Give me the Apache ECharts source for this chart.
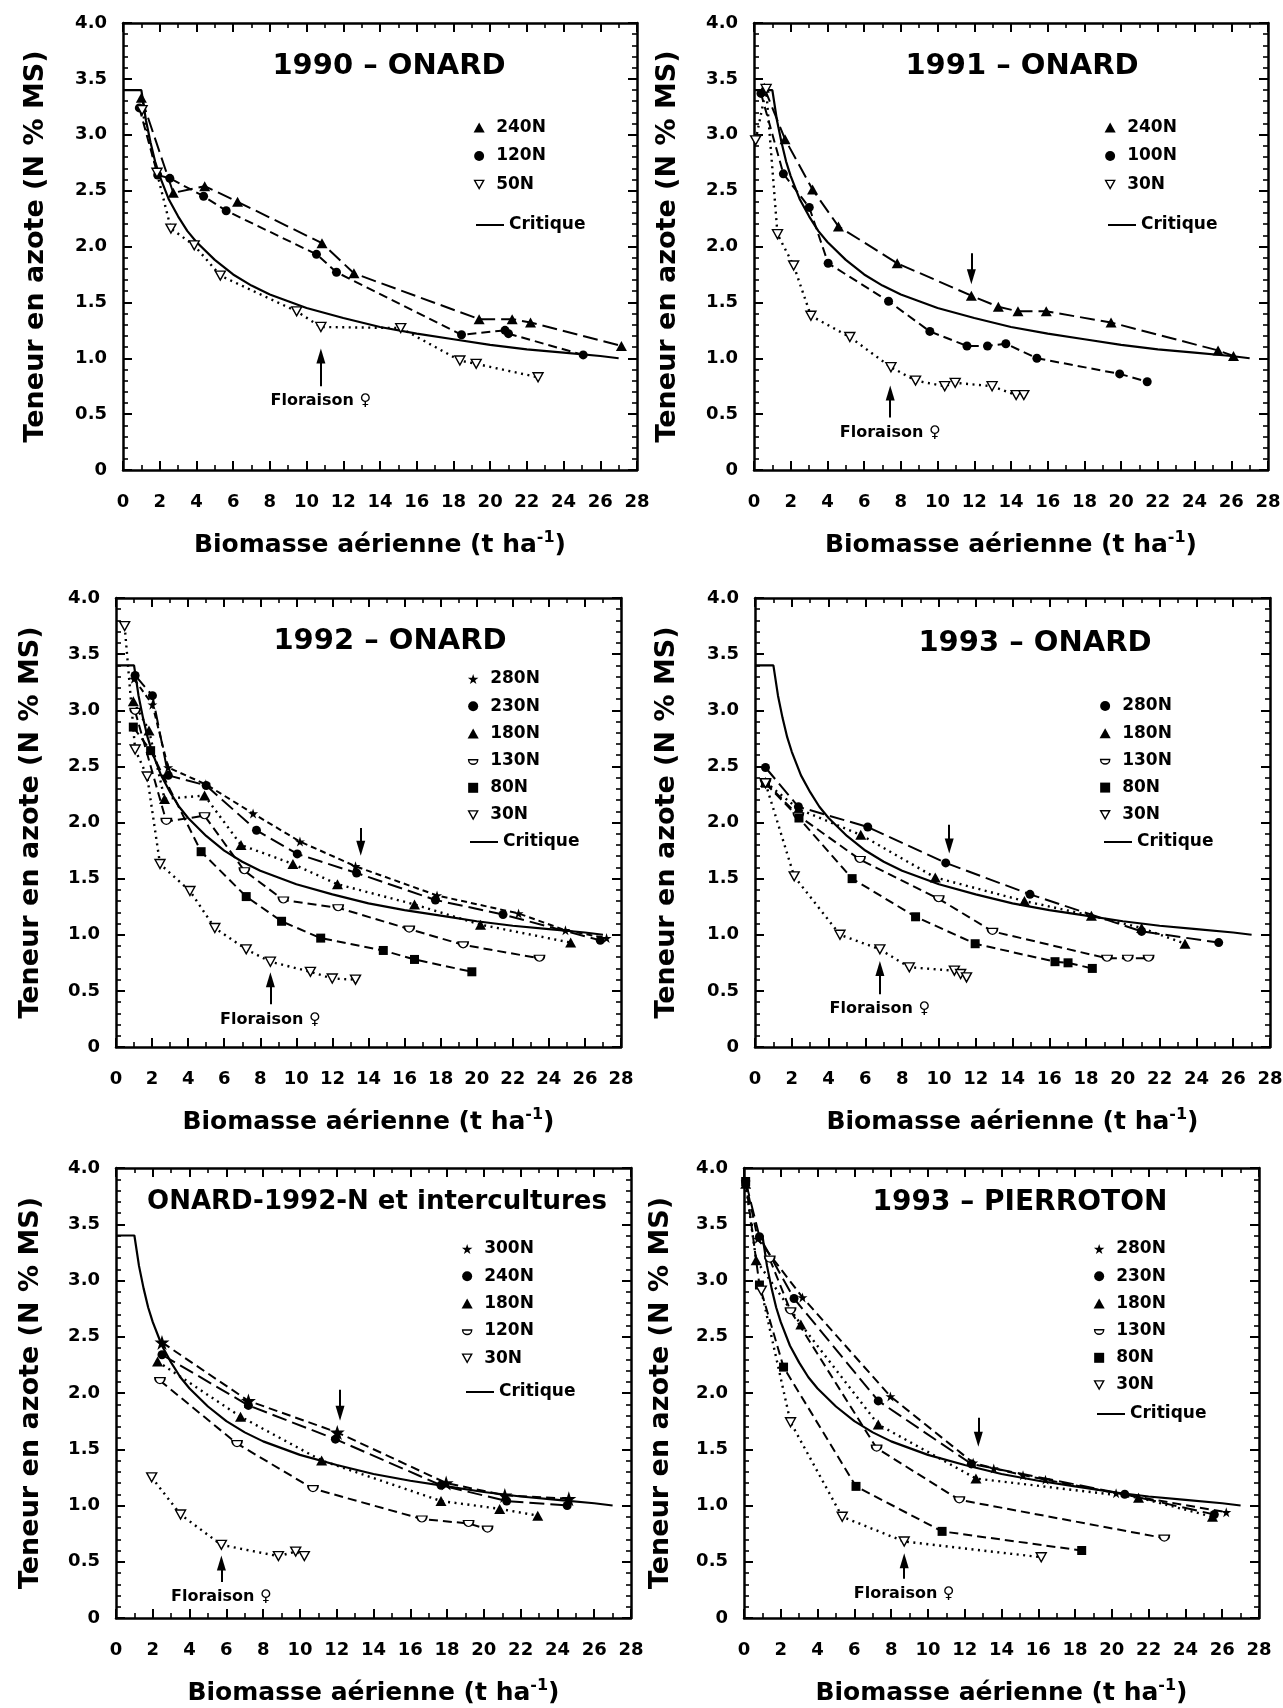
<!DOCTYPE html>
<html><head><meta charset="utf-8">
<script src="https://cdn.jsdelivr.net/npm/echarts@6/dist/echarts.min.js"></script>
<style>html,body{margin:0;padding:0;background:#fff}#c{width:1283px;height:1708px}</style>
</head><body><div id="c"></div>
<script>
// ---------- DATA ----------
const xTicks = [0, 28, 2];          // min, max, step of the x axes
const yTicks = [0, 4, 0.5];         // min, max, step of the y axes
const critique = [[0,3.4],[1,3.4],[1.25,3.13],[1.5,2.93],[1.75,2.76],[2,2.63],[2.5,2.42],[3,2.27],[3.5,2.14],[4,2.04],[5,1.88],[6,1.75],[7,1.65],[8,1.57],[9,1.51],[10,1.45],[12,1.36],[14,1.28],[16,1.22],[18,1.17],[20,1.12],[22,1.08],[24,1.05],[26,1.02],[27,1.0]];
const critiqueP6 = [[1,3.4],[1.25,3.13],[1.5,2.93],[1.75,2.76],[2,2.63],[2.5,2.42],[3,2.27],[3.5,2.14],[4,2.04],[5,1.88],[6,1.75],[7,1.65],[8,1.57],[9,1.51],[10,1.45],[12,1.36],[14,1.28],[16,1.22],[18,1.17],[20,1.12],[22,1.08],[24,1.05],[26,1.02],[27,1.0]];

// 1990 - ONARD
const p1_240N = [[1.0,3.33],[2.74,2.48],[4.45,2.54],[6.24,2.40],[10.84,2.03],[12.58,1.76],[19.4,1.35],[21.2,1.35],[22.2,1.32],[27.15,1.11]];
const p1_120N = [[0.89,3.24],[1.89,2.64],[2.55,2.61],[4.39,2.45],[5.62,2.32],[10.54,1.93],[11.63,1.77],[18.44,1.21],[20.81,1.25],[21.0,1.22],[25.07,1.03]];
const p1_50N  = [[1.04,3.22],[1.85,2.66],[2.61,2.16],[3.88,2.01],[5.30,1.74],[9.46,1.42],[10.78,1.28],[15.13,1.27],[18.35,0.98],[19.24,0.95],[22.61,0.83]];
// 1991 - ONARD
const p2_240N = [[0.56,3.42],[1.69,2.96],[3.19,2.51],[4.60,2.18],[7.80,1.85],[11.84,1.56],[13.31,1.46],[14.38,1.42],[15.92,1.42],[19.45,1.32],[25.28,1.07],[26.12,1.02]];
const p2_100N = [[0.38,3.37],[1.60,2.65],[3.01,2.35],[4.04,1.85],[7.33,1.51],[9.58,1.24],[11.60,1.11],[12.72,1.11],[13.72,1.13],[15.41,1.00],[19.92,0.86],[21.42,0.79]];
const p2_30N  = [[0.09,2.95],[0.66,3.41],[1.28,2.11],[2.16,1.83],[3.10,1.38],[5.22,1.19],[7.46,0.92],[8.80,0.80],[10.39,0.75],[10.96,0.78],[12.97,0.75],[14.28,0.67],[14.70,0.67]];
// 1992 - ONARD
const p3_280N = [[1.0,3.28],[2.02,3.05],[2.89,2.49],[4.98,2.34],[7.60,2.08],[10.20,1.83],[13.28,1.61],[17.80,1.35],[22.32,1.19],[24.92,1.04],[27.2,0.97]];
const p3_230N = [[1.06,3.31],[2.02,3.13],[2.9,2.42],[5.0,2.33],[7.79,1.93],[10.05,1.72],[13.34,1.55],[17.71,1.31],[21.46,1.18],[26.85,0.95]];
const p3_180N = [[0.96,3.08],[1.83,2.82],[2.69,2.21],[4.91,2.24],[6.93,1.80],[9.81,1.63],[12.28,1.45],[16.55,1.27],[20.21,1.09],[25.21,0.93]];
const p3_130N = [[1.06,2.99],[2.79,2.01],[4.91,2.06],[7.12,1.57],[9.28,1.31],[12.32,1.24],[16.26,1.05],[19.25,0.91],[23.48,0.79]];
const p3_80N  = [[0.96,2.85],[1.92,2.64],[4.72,1.74],[7.22,1.34],[9.18,1.12],[11.35,0.97],[14.82,0.86],[16.55,0.78],[19.73,0.67]];
const p3_30N  = [[0.48,3.75],[1.06,2.65],[1.73,2.41],[2.44,1.63],[4.10,1.39],[5.48,1.06],[7.22,0.87],[8.56,0.76],[10.78,0.67],[11.99,0.61],[13.28,0.60]];
// 1993 - ONARD
const p4_280N = [[0.57,2.49],[2.36,2.14],[6.13,1.96],[10.37,1.64],[14.95,1.36],[21.02,1.03],[25.21,0.93]];
const p4_180N = [[0.57,2.36],[2.36,2.12],[5.75,1.89],[9.80,1.51],[14.65,1.30],[18.29,1.17],[21.02,1.06],[23.38,0.92]];
const p4_130N = [[0.57,2.36],[2.36,2.06],[5.71,1.67],[9.99,1.32],[12.91,1.03],[19.14,0.79],[20.27,0.79],[21.40,0.79]];
const p4_80N  = [[0.57,2.35],[2.39,2.04],[5.28,1.50],[8.73,1.16],[11.97,0.92],[16.31,0.76],[17.02,0.75],[18.34,0.70]];
const p4_30N  = [[0.57,2.35],[2.13,1.52],[4.62,1.00],[6.79,0.87],[8.39,0.71],[10.84,0.68],[11.18,0.65],[11.50,0.62]];
// ONARD-1992-N et intercultures
const p5_300N = [[2.50,2.45],[7.20,1.93],[12.03,1.65],[17.95,1.20],[21.14,1.09],[24.62,1.06]];
const p5_240N = [[2.50,2.34],[7.20,1.89],[11.93,1.59],[17.67,1.18],[21.24,1.04],[24.53,1.00]];
const p5_180N = [[2.26,2.28],[6.77,1.79],[11.18,1.40],[17.67,1.04],[20.86,0.97],[22.93,0.91]];
const p5_120N = [[2.39,2.11],[6.58,1.55],[10.71,1.15],[16.63,0.88],[19.17,0.84],[20.20,0.79]];
const p5_30N  = [[1.94,1.25],[3.51,0.92],[5.73,0.65],[8.83,0.55],[9.77,0.59],[10.24,0.55]];
// 1993 - PIERROTON
const p6_280N = [[0.09,3.88],[0.75,3.37],[3.18,2.85],[7.96,1.97],[12.46,1.38],[13.58,1.33],[15.17,1.27],[16.39,1.23],[20.23,1.11],[26.22,0.94]];
const p6_230N = [[0.09,3.88],[0.84,3.39],[2.72,2.84],[7.30,1.93],[12.36,1.37],[20.70,1.10],[25.57,0.92]];
const p6_180N = [[0.09,3.86],[0.66,3.18],[3.09,2.61],[7.30,1.72],[12.61,1.24],[21.45,1.07],[25.47,0.90]];
const p6_130N = [[1.40,3.19],[2.53,2.73],[7.21,1.51],[11.71,1.05],[22.85,0.71]];
const p6_80N  = [[0.09,3.88],[0.84,2.96],[2.15,2.23],[6.09,1.17],[10.77,0.77],[18.36,0.60]];
const p6_30N  = [[0.94,2.91],[2.53,1.74],[5.34,0.90],[8.71,0.68],[16.16,0.54]];

// annotation arrows: [x, tail y, head y]
const floraison = [[10.78,0.75,1.02],[7.42,0.47,0.69],[8.56,0.38,0.60],[6.79,0.47,0.70],[5.73,0.32,0.49],[8.71,0.35,0.51]];
const downArrow = [null,[11.84,1.94,1.73],[13.57,1.95,1.77],[10.56,1.98,1.79],[12.18,2.03,1.82],[12.74,1.78,1.59]];

// ---------- STYLE ----------
const FONT = 'DejaVu Sans';
const INK = '#000';
const LD = [15, 6], MD = [9, 5], SD = [6, 4], DOT = [2, 4.5];
const STAR = 'path://M50,0 L61.2,34.5 L97.6,34.5 L68.2,55.9 L79.4,90.5 L50,69.1 L20.6,90.5 L31.8,55.9 L2.4,34.5 L38.8,34.5 Z';
const MK = {
  tri:  {sym:'path://M10,0 L20,18 L0,18 Z', size:[11,10], open:false},
  circ: {sym:'circle', size:9, open:false, legend:'path://M0,10 A10,10 0 1 1 20,10 A10,10 0 1 1 0,10 Z'},
  dtri: {sym:'path://M0,0 L20,0 L10,18 Z', size:[10,9], open:true,
         legend:'path://M-2,-2 L-2,-2 M0,0 L20,0 L10,18 Z M22,20 L22,20'},
  star: {sym:STAR, size:[10,10], open:false},
  bstar:{sym:STAR, size:[15,15], open:false},
  sq:   {sym:'rect', size:9, open:false, legend:'path://M0,0 L18,0 L18,18 L0,18 Z'},
  cup:  {sym:'path://M0,0 L20,0 A10,10 0 0 1 0,0 Z', size:[10,6], open:true,
         legend:'path://M-1,-9 L-1,-9 M0,0 L20,0 A10,10 0 0 1 0,0 Z M21,13 L21,13'}
};
const CRIT_ICON = 'path://M0,0 L100,0 L100,7 L0,7 Z';

const panels = [
 {grid:{left:123,top:23,width:514,height:447}, title:'1990 – ONARD', tx:389, ty:52, ts:29, yGap:74,
  series:[{name:'240N',data:p1_240N,mk:'tri',dash:LD},{name:'120N',data:p1_120N,mk:'circ',dash:MD},{name:'50N',data:p1_50N,mk:'dtri',dash:DOT}],
  legLeft:473, legTop:119, legGap:11.5, critLeft:476, critTop:216.5, crit:critique},
 {grid:{left:754,top:23,width:514,height:447}, title:'1991 – ONARD', tx:1022, ty:52, ts:29, yGap:73,
  series:[{name:'240N',data:p2_240N,mk:'tri',dash:LD},{name:'100N',data:p2_100N,mk:'circ',dash:MD},{name:'30N',data:p2_30N,mk:'dtri',dash:DOT}],
  legLeft:1104, legTop:119, legGap:11.5, critLeft:1108, critTop:216.5, crit:critique},
 {grid:{left:116,top:598,width:505,height:449}, title:'1992 – ONARD', tx:390, ty:627, ts:29, yGap:72,
  series:[{name:'280N',data:p3_280N,mk:'star',dash:SD},{name:'230N',data:p3_230N,mk:'circ',dash:LD},{name:'180N',data:p3_180N,mk:'tri',dash:DOT},
          {name:'130N',data:p3_130N,mk:'cup',dash:MD},{name:'80N',data:p3_80N,mk:'sq',dash:MD},{name:'30N',data:p3_30N,mk:'dtri',dash:DOT}],
  legLeft:467, legTop:670.5, legGap:10.2, critLeft:470, critTop:833.5, crit:critique},
 {grid:{left:755,top:598,width:515,height:449}, title:'1993 – ONARD', tx:1035, ty:629, ts:29, yGap:75,
  series:[{name:'280N',data:p4_280N,mk:'circ',dash:LD},{name:'180N',data:p4_180N,mk:'tri',dash:DOT},{name:'130N',data:p4_130N,mk:'cup',dash:MD},
          {name:'80N',data:p4_80N,mk:'sq',dash:MD},{name:'30N',data:p4_30N,mk:'dtri',dash:DOT}],
  legLeft:1099, legTop:697.5, legGap:10.2, critLeft:1104, critTop:833.5, crit:critique},
 {grid:{left:116,top:1168,width:515,height:450}, title:'ONARD-1992-N et intercultures', tx:377, ty:1189, ts:26, yGap:72,
  series:[{name:'300N',data:p5_300N,mk:'bstar',dash:MD},{name:'240N',data:p5_240N,mk:'circ',dash:LD},{name:'180N',data:p5_180N,mk:'tri',dash:DOT},
          {name:'120N',data:p5_120N,mk:'cup',dash:MD},{name:'30N',data:p5_30N,mk:'dtri',dash:DOT}],
  legLeft:461, legTop:1240.5, legGap:10.3, critLeft:466, critTop:1383.5, crit:critique},
 {grid:{left:744,top:1168,width:515,height:450}, title:'1993 – PIERROTON', tx:1020, ty:1189, ts:28, yGap:70,
  series:[{name:'280N',data:p6_280N,mk:'star',dash:MD},{name:'230N',data:p6_230N,mk:'circ',dash:LD},{name:'180N',data:p6_180N,mk:'tri',dash:DOT},
          {name:'130N',data:p6_130N,mk:'cup',dash:MD},{name:'80N',data:p6_80N,mk:'sq',dash:MD},{name:'30N',data:p6_30N,mk:'dtri',dash:DOT}],
  legLeft:1093, legTop:1240.5, legGap:10.2, critLeft:1097, critTop:1405.5, crit:critiqueP6}
];

const lblStyle = {color:INK, fontFamily:FONT, fontWeight:'bold', fontSize:18};
const option = {animation:false, backgroundColor:'#fff', grid:[], xAxis:[], yAxis:[], series:[], legend:[], title:[]};

function axisCommon(){
  return {
    axisLine:{show:true, onZero:false, lineStyle:{color:INK, width:2.5}},
    axisTick:{show:true, inside:true, length:9, lineStyle:{color:INK, width:2}},
    minorTick:{show:true, length:5, lineStyle:{color:INK, width:1.6}},
    splitLine:{show:false}, minorSplitLine:{show:false}
  };
}

panels.forEach((p, i) => {
  option.grid.push(Object.assign({containLabel:false, outerBoundsMode:'none'}, p.grid));
  ['bottom','top'].forEach(pos => {
    const a = Object.assign(axisCommon(), {
      type:'value', gridIndex:i, position:pos, min:xTicks[0], max:xTicks[1], interval:xTicks[2],
      axisLabel:Object.assign({show:pos==='bottom', margin:23}, lblStyle)
    });
    a.minorTick.splitNumber = 2;
    if (pos === 'bottom') {
      a.name = 'Biomasse aérienne (t ha{sup|-1})';
      a.nameLocation = 'middle'; a.nameGap = 60; a.nameMoveOverlap = false;
      a.nameTextStyle = {color:INK, fontFamily:FONT, fontWeight:'bold', fontSize:25,
        rich:{sup:{color:INK, fontFamily:FONT, fontWeight:'bold', fontSize:16, padding:[0,0,14,0]}}};
    }
    option.xAxis.push(a);
  });
  ['left','right'].forEach(pos => {
    const a = Object.assign(axisCommon(), {
      type:'value', gridIndex:i, position:pos, min:yTicks[0], max:yTicks[1], interval:yTicks[2],
      axisLabel:Object.assign({show:pos==='left', margin:16, formatter:v => v === 0 ? '0' : v.toFixed(1)}, lblStyle)
    });
    a.minorTick.splitNumber = 5;
    if (pos === 'left') {
      a.name = 'Teneur en azote (N % MS)';
      a.nameLocation = 'middle'; a.nameGap = p.yGap; a.nameRotate = 90; a.nameMoveOverlap = false;
      a.nameTextStyle = {color:INK, fontFamily:FONT, fontWeight:'bold', fontSize:27};
    }
    option.yAxis.push(a);
  });

  option.title.push({text:p.title, left:p.tx, top:p.ty, textAlign:'center', padding:0,
    textStyle:{color:INK, fontFamily:FONT, fontWeight:'bold', fontSize:p.ts}});

  const xi = 2*i, yi = 2*i;
  const fl = floraison[i];
  option.series.push({
    type:'line', name:'Critique', xAxisIndex:xi, yAxisIndex:yi, data:p.crit, symbol:'none',
    lineStyle:{color:INK, width:2.2, type:'solid'}, z:2, silent:true,
    markLine:{silent:true, symbol:['none','triangle'], symbolSize:[9,15], animation:false,
      lineStyle:{color:INK, width:2, type:'solid'},
      label:{show:true, position:'start', distance:7, formatter:'Floraison ♀', color:INK, fontFamily:FONT, fontWeight:'bold', fontSize:16},
      emphasis:{disabled:true},
      data:[[{coord:[fl[0], fl[1]]},{coord:[fl[0], fl[2]]}]]}
  });
  const legendData = [];
  p.series.forEach((s, k) => {
    const m = MK[s.mk];
    const isDot = s.dash === DOT;
    const ser = {
      type:'line', name:s.name, xAxisIndex:xi, yAxisIndex:yi, data:s.data,
      symbol:m.sym, symbolSize:m.size, showAllSymbol:true, z:3, silent:true,
      itemStyle: m.open ? {color:'#fff', borderColor:INK, borderWidth:1.4} : {color:INK, borderWidth:0},
      lineStyle:{color:INK, width:isDot ? 2.4 : 2, type:s.dash}
    };
    if (k === 0 && downArrow[i]) {
      const d = downArrow[i];
      ser.markLine = {silent:true, symbol:['none','triangle'], symbolSize:[9,15], animation:false,
        lineStyle:{color:INK, width:2, type:'solid'}, label:{show:false}, emphasis:{disabled:true},
        data:[[{coord:[d[0], d[1]]},{coord:[d[0], d[2]]}]]};
    }
    option.series.push(ser);
    legendData.push({name:s.name, icon:m.legend || m.sym,
      itemStyle: m.open ? {color:'#fff', borderColor:INK, borderWidth:1.4} : {color:INK, borderColor:INK, borderWidth:0}});
  });
  const ts = {color:INK, fontFamily:FONT, fontWeight:'bold', fontSize:17, lineHeight:17};
  option.legend.push({orient:'vertical', left:p.legLeft, top:p.legTop, padding:0, itemWidth:24, itemHeight:10,
    itemGap:p.legGap, selectedMode:false, symbolKeepAspect:true, textStyle:ts, data:legendData});
  option.legend.push({orient:'vertical', left:p.critLeft, top:p.critTop, padding:0, itemWidth:28, itemHeight:10,
    selectedMode:false, symbolKeepAspect:true, textStyle:ts,
    data:[{name:'Critique', icon:CRIT_ICON, itemStyle:{color:INK, borderWidth:0}}]});
});

const chart = echarts.init(document.getElementById('c'), null, {renderer:'canvas', width:1283, height:1708});
chart.setOption(option);
</script>
</body></html>
